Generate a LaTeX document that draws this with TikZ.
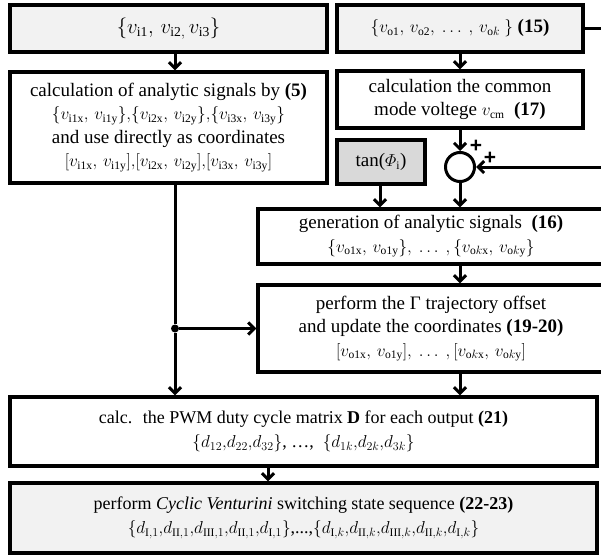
\documentclass[tikz,border=0pt]{standalone}
\usepackage{amsmath}
\usepackage{fontspec}
\setmainfont{Liberation Serif}
\newfontfamily\plusfont{Liberation Sans}
\usetikzlibrary{arrows.meta}
\definecolor{lightfill}{HTML}{F2F2F2}
\definecolor{darkfill}{HTML}{D9D9D9}
\newcommand\mth[1]{{\fontsize{16.5}{23.5}\selectfont$#1$}}
\newcommand\bigmth[1]{{\fontsize{19.5}{23.5}\selectfont$#1$}}
\begin{document}
\begin{tikzpicture}[x=1pt,y=-1pt,
 box/.style={draw,line width=3.4pt,inner sep=0pt,align=center,font=\fontsize{19}{23.5}\selectfont},
 arr/.style={line width=3pt,-{Straight Barb[length=6pt,width=12pt,line width=3pt]}},
 ln/.style={line width=3pt},
 plus/.style={font=\plusfont\bfseries\fontsize{21}{21}\selectfont,inner sep=0pt}]
\useasboundingbox[clip] (0,0) rectangle (601,557);
\fill[white] (0,0) rectangle (601,557);
% boxes
\node[box,fill=lightfill,minimum width=317pt,minimum height=47pt] (A) at (168.5,28.5)
  {\bigmth{\{v_{\mathrm{i1}},\, v_{\mathrm{i2,}}\, v_{\mathrm{i3}}\}}};
\node[box,fill=lightfill,minimum width=246pt,minimum height=47pt] (B) at (460,28.5)
  {\mth{\{v_{\mathrm{o1}},\, v_{\mathrm{o2}},\ \dots\ ,\, v_{\mathrm{o}k}\ \}} \textbf{(15)}};
\node[box,minimum width=317pt,minimum height=111pt] (L) at (168.5,127.5)
  {calculation of analytic signals by \textbf{(5)}\\
   \mth{\{v_{\mathrm{i1x}},\, v_{\mathrm{i1y}}\}{,}\{v_{\mathrm{i2x}},\, v_{\mathrm{i2y}}\}{,}\{v_{\mathrm{i3x}},\, v_{\mathrm{i3y}}\}}\\
   and use directly as coordinates\\
   \mth{[v_{\mathrm{i1x}},\, v_{\mathrm{i1y}}]{,}[v_{\mathrm{i2x}},\, v_{\mathrm{i2y}}]{,}[v_{\mathrm{i3x}},\, v_{\mathrm{i3y}}]}};
\node[box,minimum width=246pt,minimum height=57pt] (CM) at (460,99.5)
  {calculation the common\\ mode voltege \mth{v_{\mathrm{cm}}} \ \textbf{(17)}};
\node[box,fill=darkfill,minimum width=88pt,minimum height=44pt] (T) at (381,162)
  {tan(\mth{\varPhi_{\mathrm{i}}})};
\node[draw,circle,line width=3pt,minimum size=29pt,inner sep=0pt] (S) at (460,167) {};
\node[plus] (p1) at (476,146) {+};
\node[plus] (p2) at (490,158) {+};
\node[box,minimum width=346pt,minimum height=55pt] (G) at (431,236.5)
  {generation of analytic signals \ \textbf{(16)}\\
   \mth{\{v_{\mathrm{o1x}},\, v_{\mathrm{o1y}}\},\ \dots\ ,\{v_{\mathrm{o}k\mathrm{x}},\, v_{\mathrm{o}k\mathrm{y}}\}}};
\node[box,minimum width=346pt,minimum height=87pt] (P) at (431,328.5)
  {perform the Γ trajectory offset\\
   and update the coordinates \textbf{(19-20)}\\
   \mth{[v_{\mathrm{o1x}},\, v_{\mathrm{o1y}}],\ \dots\ ,[v_{\mathrm{o}k\mathrm{x}},\, v_{\mathrm{o}k\mathrm{y}}]}};
\node[box,font=\fontsize{18}{24}\selectfont,minimum width=587pt,minimum height=69pt] (PWM) at (303.5,431.5)
  {calc. \ the PWM duty cycle matrix \textbf{D} for each output \textbf{(21)}\\
   \mth{\{d_{12}{,}d_{22}{,}d_{32}\}}, \dots, \ \mth{\{d_{1k}{,}d_{2k}{,}d_{3k}\}}};
\node[box,font=\fontsize{18}{24}\selectfont,fill=lightfill,minimum width=587pt,minimum height=70pt] (Bot) at (303.5,518)
  {perform \textit{Cyclic Venturini} switching state sequence \textbf{(22-23)}\\
   \mth{\{d_{\mathrm{I},1}{,}d_{\mathrm{II},1}{,}d_{\mathrm{III},1}{,}d_{\mathrm{II},1}{,}d_{\mathrm{I},1}\}},...,\mth{\{d_{\mathrm{I},k}{,}d_{\mathrm{II},k}{,}d_{\mathrm{III},k}{,}d_{\mathrm{II},k}{,}d_{\mathrm{I},k}\}}};
% helper coordinates
\coordinate (xl) at (175,0);
\coordinate (xr) at (460,0);
\coordinate (xt) at (380,0);
\coordinate (xb) at (268,0);
\coordinate (r1) at (606,28.5);
\coordinate (r2) at (606,167);
\node[circle,fill,inner sep=0pt,minimum size=8pt] (dot) at (175,328.5) {};
% connectors
\draw[arr] (A.south -| xl) -- (L.north -| xl);
\draw[arr] (B.south -| xr) -- (CM.north -| xr);
\draw[arr] (CM.south -| xr) -- (S.north);
\draw[ln] (B.east) -- (r1);
\draw[arr] (r2) -- (S.east);
\draw[arr] (T.south -| xt) -- (G.north -| xt);
\draw[arr] (S.south) -- (G.north -| xr);
\draw[arr] (G.south -| xr) -- (P.north -| xr);
\draw[ln] (L.south -| xl) -- (dot);
\draw[arr] (dot) -- (PWM.north -| xl);
\draw[arr] (dot) -- (P.west);
\draw[arr] (P.south -| xr) -- (PWM.north -| xr);
\draw[arr] (PWM.south -| xb) -- (Bot.north -| xb);
\end{tikzpicture}
\end{document}
